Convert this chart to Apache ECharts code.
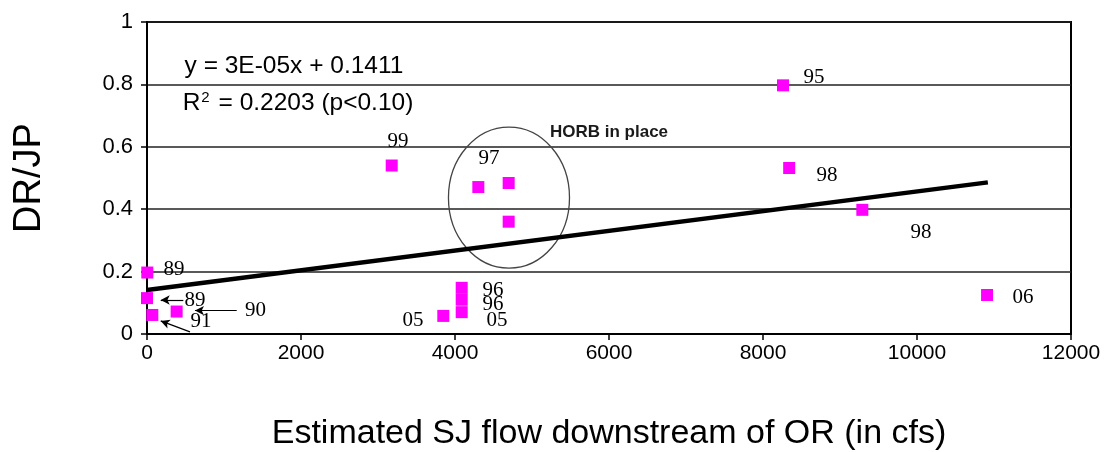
<!DOCTYPE html>
<html>
<head>
<meta charset="utf-8">
<script src="https://cdn.jsdelivr.net/npm/echarts@6/dist/echarts.min.js"></script>
<style>html,body{margin:0;padding:0;background:#fff;}#c{width:1106px;height:452px;}</style>
</head>
<body>
<div id="c"></div>
<script>
// Observed points: [flow cfs, DR/JP]
const points = [
  [4, 0.197], [0, 0.115], [69, 0.061], [385, 0.072],
  [3178, 0.540], [3848, 0.058], [4087, 0.148], [4087, 0.110], [4087, 0.070],
  [4303, 0.471], [4697, 0.484], [4697, 0.360],
  [8260, 0.797], [8340, 0.532], [9290, 0.398], [10910, 0.125]
];
// Fitted trend line ends (y = 3E-05x + 0.1411)
const trend = [[0, 0.141], [10920, 0.486]];
// Year labels placed in data space
const yearLabels = [
  ['89', 351, 0.207], ['89', 623, 0.109], ['90', 1410, 0.075], ['91', 700, 0.039],
  ['99', 3260, 0.616], ['97', 4442, 0.562], ['96', 4494, 0.141], ['96', 4494, 0.096],
  ['05', 4545, 0.042], ['05', 3455, 0.042],
  ['95', 8662, 0.822], ['98', 8831, 0.507], ['98', 10052, 0.324], ['06', 11377, 0.116]
];
// Arrows: [tailX, tailY, headX, headY]
const arrows = [
  [472, 0.109, 178, 0.109],
  [1165, 0.075, 623, 0.075],
  [558, 0.007, 178, 0.042]
];
// HORB ellipse: [cx, cy, rx, ry]
const horbEllipse = [[4701, 0.437, 786, 0.226]];
const xTicks = [0, 2000, 4000, 6000, 8000, 10000, 12000];
const yTicks = [0, 0.2, 0.4, 0.6, 0.8, 1];
const equationText = 'y = 3E-05x + 0.1411';
const r2Text = 'R{sup|2} = 0.2203 (p<0.10)';
const xName = 'Estimated SJ flow downstream of OR (in cfs)';
const yName = 'DR/JP';

const chart = echarts.init(document.getElementById('c'), null, {renderer: 'canvas'});
const sans = 'Liberation Sans, Arial, sans-serif';
const serif = 'Liberation Serif, Times New Roman, serif';

chart.setOption({
  animation: false,
  backgroundColor: '#fff',
  grid: {left: 147, right: 35, top: 22, bottom: 118, show: true, borderColor: '#000', borderWidth: 2,
    backgroundColor: '#fff', containLabel: false, outerBoundsMode: 'none'},
  xAxis: {
    type: 'value', min: xTicks[0], max: xTicks[xTicks.length - 1], interval: 2000,
    name: xName, nameLocation: 'middle', nameGap: 83,
    nameTextStyle: {fontFamily: sans, fontSize: 34, color: '#000'},
    axisLine: {show: true, onZero: false, lineStyle: {color: '#000', width: 2}},
    axisTick: {show: true, inside: false, length: 6, lineStyle: {color: '#000', width: 1.5}},
    axisLabel: {fontFamily: sans, fontSize: 21, color: '#000', margin: 9, formatter: v => String(v)},
    splitLine: {show: false}
  },
  yAxis: {
    type: 'value', min: yTicks[0], max: yTicks[yTicks.length - 1], interval: 0.2,
    name: yName, nameLocation: 'middle', nameGap: 98, nameRotate: 90,
    nameTextStyle: {fontFamily: sans, fontSize: 38, color: '#000'},
    axisLine: {show: true, onZero: false, lineStyle: {color: '#000', width: 2}},
    axisTick: {show: true, inside: false, length: 6, lineStyle: {color: '#000', width: 1.5}},
    axisLabel: {fontFamily: sans, fontSize: 22, color: '#000', margin: 14,
      formatter: v => String(Math.round(v * 10) / 10)},
    splitLine: {show: true, lineStyle: {color: '#222', width: 1.5}}
  },
  series: [
    {
      type: 'custom', silent: true, z: 1,
      data: horbEllipse,
      renderItem: function (params, api) {
        const c = api.coord([api.value(0), api.value(1)]);
        const s = api.size([api.value(2), api.value(3)]);
        return {type: 'ellipse', shape: {cx: c[0], cy: c[1], rx: s[0], ry: s[1]},
          style: {fill: null, stroke: '#444', lineWidth: 1.3}};
      }
    },
    {
      type: 'line', data: trend, symbol: 'none', silent: true, z: 2,
      lineStyle: {color: '#000', width: 4.5}
    },
    {
      type: 'scatter', data: points, symbol: 'rect', symbolSize: 12, z: 3,
      itemStyle: {color: '#FF00FF', opacity: 1},
      markLine: {
        silent: true, animation: false,
        label: {show: false},
        lineStyle: {color: '#000', width: 1.2, type: 'solid', opacity: 1},
        data: arrows.map(a => [
          {coord: [a[0], a[1]], symbol: 'none'},
          {coord: [a[2], a[3]], symbol: 'arrow', symbolSize: [7, 9]}
        ])
      }
    },
    {
      type: 'scatter', silent: true, symbolSize: 0, z: 4,
      itemStyle: {opacity: 1},
      data: yearLabels.map(l => ({name: l[0], value: [l[1], l[2]]})),
      label: {show: true, position: 'inside', formatter: '{b}', fontFamily: serif, fontSize: 21, color: '#000'}
    },
    {
      type: 'scatter', silent: true, symbolSize: 0, z: 4,
      itemStyle: {opacity: 1},
      data: [
        {name: equationText, value: [1909, 0.858], label: {formatter: equationText}},
        {name: 'r2', value: [1961, 0.738], label: {formatter: r2Text}},
        {name: 'HORB in place', value: [6000, 0.645], label: {formatter: 'HORB in place', fontWeight: 'bold', fontSize: 17, color: '#1a1a1a'}}
      ],
      label: {show: true, position: 'inside', fontFamily: sans, fontSize: 24.5, color: '#000',
        rich: {sup: {fontFamily: sans, fontSize: 15, color: '#000', verticalAlign: 'top', padding: [0, 2, 12, 1]}}}
    }
  ]
});
</script>
</body>
</html>
